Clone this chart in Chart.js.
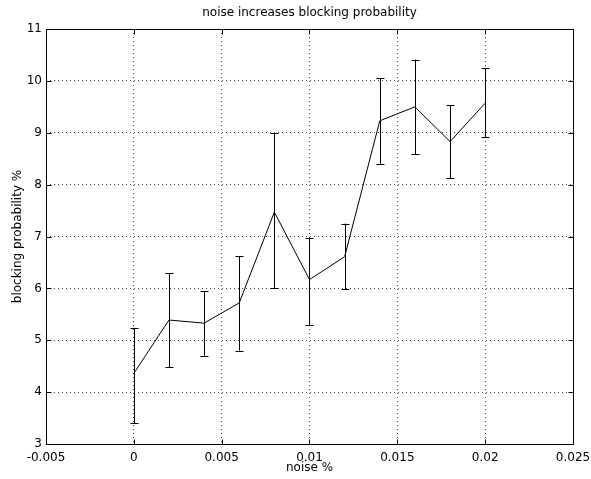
<!DOCTYPE html>
<html><head><meta charset="utf-8">
<script src="https://cdn.jsdelivr.net/npm/chart.js@4"></script>
<style>html,body{margin:0;padding:0;background:#fff}canvas{display:block}</style>
</head><body>
<canvas id="c" width="591" height="479"></canvas>
<script>
const noise    = [0, 0.002, 0.004, 0.006, 0.008, 0.010, 0.012, 0.014, 0.016, 0.018, 0.020];
const blocking = [4.36, 5.39, 5.33, 5.72, 7.47, 6.17, 6.61, 9.23, 9.50, 8.83, 9.57];
const errLow   = [3.40, 4.48, 4.70, 4.80, 6.00, 5.29, 5.98, 8.40, 8.59, 8.12, 8.92];
const errHigh  = [5.24, 6.29, 5.95, 6.62, 8.99, 6.98, 7.25, 10.05, 10.41, 9.53, 10.24];
const xTicks   = [-0.005, 0, 0.005, 0.01, 0.015, 0.02, 0.025];
const yTicks   = [3, 4, 5, 6, 7, 8, 9, 10, 11];
const titleText = 'noise increases blocking probability';
const xTitle = 'noise %';
const yTitle = 'blocking probability %';

const FONT = 'DejaVu Sans';

const framePlugin = {
  id: 'frame',
  afterDatasetsDraw(chart) {
    const ctx = chart.ctx;
    const xs = chart.scales.x, ys = chart.scales.y;
    ctx.save();
    ctx.strokeStyle = '#000';
    ctx.lineWidth = 1;
    for (let i = 0; i < noise.length; i++) {
      const px = Math.round(xs.getPixelForValue(noise[i])) + 0.5;
      const yl = ys.getPixelForValue(errLow[i]);
      const yh = ys.getPixelForValue(errHigh[i]);
      ctx.beginPath();
      ctx.moveTo(px, yl); ctx.lineTo(px, yh);
      ctx.moveTo(px - 4, Math.round(yl) + 0.5); ctx.lineTo(px + 4, Math.round(yl) + 0.5);
      ctx.moveTo(px - 4, Math.round(yh) + 0.5); ctx.lineTo(px + 4, Math.round(yh) + 0.5);
      ctx.stroke();
    }
    const a = chart.chartArea;
    const L = Math.round(a.left) + 0.5, R = Math.round(a.right) + 0.5;
    const T = Math.round(a.top) + 0.5, B = Math.round(a.bottom) + 0.5;
    ctx.strokeRect(L, T, R - L, B - T);
    ctx.beginPath();
    xTicks.forEach(v => {
      const px = Math.round(xs.getPixelForValue(v)) + 0.5;
      ctx.moveTo(px, B); ctx.lineTo(px, B - 5);
      ctx.moveTo(px, T); ctx.lineTo(px, T + 5);
    });
    yTicks.forEach(v => {
      const py = Math.round(ys.getPixelForValue(v)) + 0.5;
      ctx.moveTo(L, py); ctx.lineTo(L + 5, py);
      ctx.moveTo(R, py); ctx.lineTo(R - 5, py);
    });
    ctx.stroke();
    ctx.fillStyle = '#000';
    ctx.font = '12px "' + FONT + '"';
    ctx.textAlign = 'center';
    ctx.textBaseline = 'middle';
    ctx.fillText(titleText, (a.left + a.right) / 2, 13);
    ctx.restore();
  }
};

new Chart(document.getElementById('c'), {
  type: 'line',
  data: {
    datasets: [{
      data: noise.map((x, i) => ({x: x, y: blocking[i]})),
      borderColor: '#000',
      borderWidth: 1,
      pointRadius: 0,
      tension: 0,
      fill: false
    }]
  },
  options: {
    responsive: false,
    animation: false,
    devicePixelRatio: 1,
    layout: {padding: {left: 0, right: 18, top: 29, bottom: 0}},
    plugins: {legend: {display: false}, tooltip: {enabled: false}, title: {display: false}},
    scales: {
      x: {
        type: 'linear',
        min: -0.005, max: 0.025,
        afterBuildTicks: s => { s.ticks = xTicks.map(v => ({value: v})); },
        afterFit: s => { s.height = 35; s.paddingLeft = 0; s.paddingRight = 0; },
        ticks: {
          color: '#000', padding: 7, maxRotation: 0, autoSkip: false,
          font: {family: FONT, size: 12},
          callback: v => String(v)
        },
        grid: {color: 'rgba(0,0,0,0.75)', lineWidth: 1, drawTicks: false},
        border: {display: false, dash: [1, 3]},
        title: {display: true, text: xTitle, color: '#000', font: {family: FONT, size: 12}, padding: {top: 0, bottom: 4}}
      },
      y: {
        type: 'linear',
        min: 3, max: 11,
        afterBuildTicks: s => { s.ticks = yTicks.map(v => ({value: v})); },
        afterFit: s => { s.width = 46; s.paddingTop = 0; s.paddingBottom = 0; },
        ticks: {
          color: '#000', padding: 4, autoSkip: false,
          font: {family: FONT, size: 12},
          callback: v => String(v)
        },
        grid: {color: 'rgba(0,0,0,0.75)', lineWidth: 1, drawTicks: false},
        border: {display: false, dash: [1, 3]},
        title: {display: true, text: yTitle, color: '#000', font: {family: FONT, size: 12}, padding: {top: 11, bottom: 0}}
      }
    }
  },
  plugins: [framePlugin]
});
</script>
</body></html>
